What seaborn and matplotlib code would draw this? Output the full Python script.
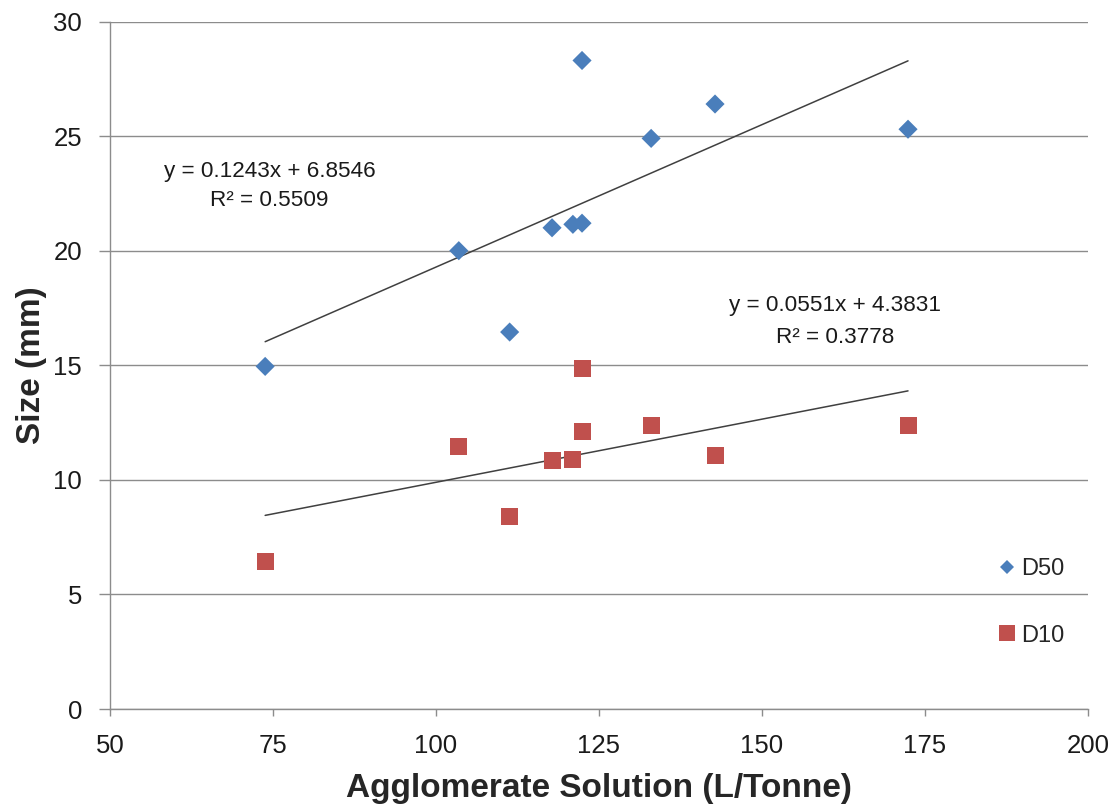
import numpy as np
import pandas as pd
import matplotlib
matplotlib.use("Agg")
import matplotlib.pyplot as plt
import seaborn as sns
from matplotlib.lines import Line2D

# Agglomerate solution dosage (L/Tonne) and resulting agglomerate sizes (mm)
solution = [73.8, 103.5, 111.3, 117.8, 121.0, 122.4, 122.4, 133.0, 142.8, 172.4]
d50 = [14.95, 20.0, 16.45, 21.0, 21.15, 21.2, 28.3, 24.9, 26.4, 25.3]
d10_solution = [73.8, 103.5, 111.3, 117.8, 121.0, 122.4, 122.4, 133.0, 142.8, 172.4]
d10 = [6.45, 11.45, 8.4, 10.85, 10.9, 12.1, 14.85, 12.35, 11.05, 12.35]

# Linear trendline coefficients (slope, intercept, R²)
d50_fit = (0.1243, 6.8546, 0.5509)
d10_fit = (0.0551, 4.3831, 0.3778)

series_names = ["D50", "D10"]
blue = "#4A7EBB"
red = "#C0504D"

df = pd.DataFrame({
    "solution": solution + d10_solution,
    "size": d50 + d10,
    "series": ["D50"] * len(d50) + ["D10"] * len(d10),
})

sns.set_theme(style="white")
plt.rcParams["font.family"] = ["Liberation Sans", "DejaVu Sans"]

fig = plt.figure(figsize=(11.2, 8.09), dpi=100)
ax = fig.add_axes([0.0982, 0.1236, 0.8732, 0.8498])

sns.scatterplot(data=df, x="solution", y="size", hue="series", style="series",
                hue_order=series_names, style_order=series_names,
                palette={"D50": blue, "D10": red},
                markers={"D50": "D", "D10": "s"},
                size="series", sizes={"D50": 95, "D10": 150},
                edgecolor="none", linewidth=0, legend=False, ax=ax, zorder=3)

# Trendlines drawn from the fitted equations over each series' x-range
for xs, (m, b, _) in ((solution, d50_fit), (d10_solution, d10_fit)):
    xr = np.array([min(xs), max(xs)])
    ax.plot(xr, m * xr + b, color="#404040", lw=1.1, zorder=2)

txt = dict(ha="center", va="center", fontsize=16.2, color="#1a1a1a")
ax.text(74.5, 23.45, f"y = {d50_fit[0]}x + {d50_fit[1]}", **txt)
ax.text(74.5, 22.2, f"R² = {d50_fit[2]}", **txt)
ax.text(161.2, 17.6, f"y = {d10_fit[0]}x + {d10_fit[1]}", **txt)
ax.text(161.2, 16.2, f"R² = {d10_fit[2]}", **txt)

ax.set_xlim(50, 200)
ax.set_ylim(0, 30)
ax.set_xticks([50, 75, 100, 125, 150, 175, 200])
ax.set_yticks([0, 5, 10, 15, 20, 25, 30])
ax.grid(axis="y", color="#8c8c8c", lw=1.0)
ax.grid(axis="x", visible=False)
ax.set_axisbelow(True)

for side in ("top", "right"):
    ax.spines[side].set_visible(False)
ax.spines["left"].set_color("#8c8c8c")
ax.spines["bottom"].set_color("#8c8c8c")
ax.spines["left"].set_linewidth(1.0)
ax.spines["bottom"].set_linewidth(1.0)

ax.tick_params(axis="y", which="major", length=8, width=1.0, color="#8c8c8c",
               direction="out", left=True, labelsize=18.5, pad=12)
ax.tick_params(axis="x", which="major", length=5, width=1.0, color="#8c8c8c",
               direction="out", bottom=True, labelsize=18.5, pad=13)
for lbl in ax.get_xticklabels() + ax.get_yticklabels():
    lbl.set_color("#1a1a1a")

ax.set_xlabel("Agglomerate Solution (L/Tonne)", fontsize=24, fontweight="bold", labelpad=11)
ax.set_ylabel("Size (mm)", fontsize=24, fontweight="bold", labelpad=5)

handles = [
    Line2D([], [], marker="D", color=blue, ls="none", markersize=7, markeredgewidth=0),
    Line2D([], [], marker="s", color=red, ls="none", markersize=11, markeredgewidth=0),
]
ax.legend(handles, series_names, loc="lower right", bbox_to_anchor=(0.99, 0.07),
          frameon=False, fontsize=17, labelspacing=1.9, handletextpad=0.1,
          handlelength=1.0, borderaxespad=0.2)

fig.savefig("out.png", dpi=100)
